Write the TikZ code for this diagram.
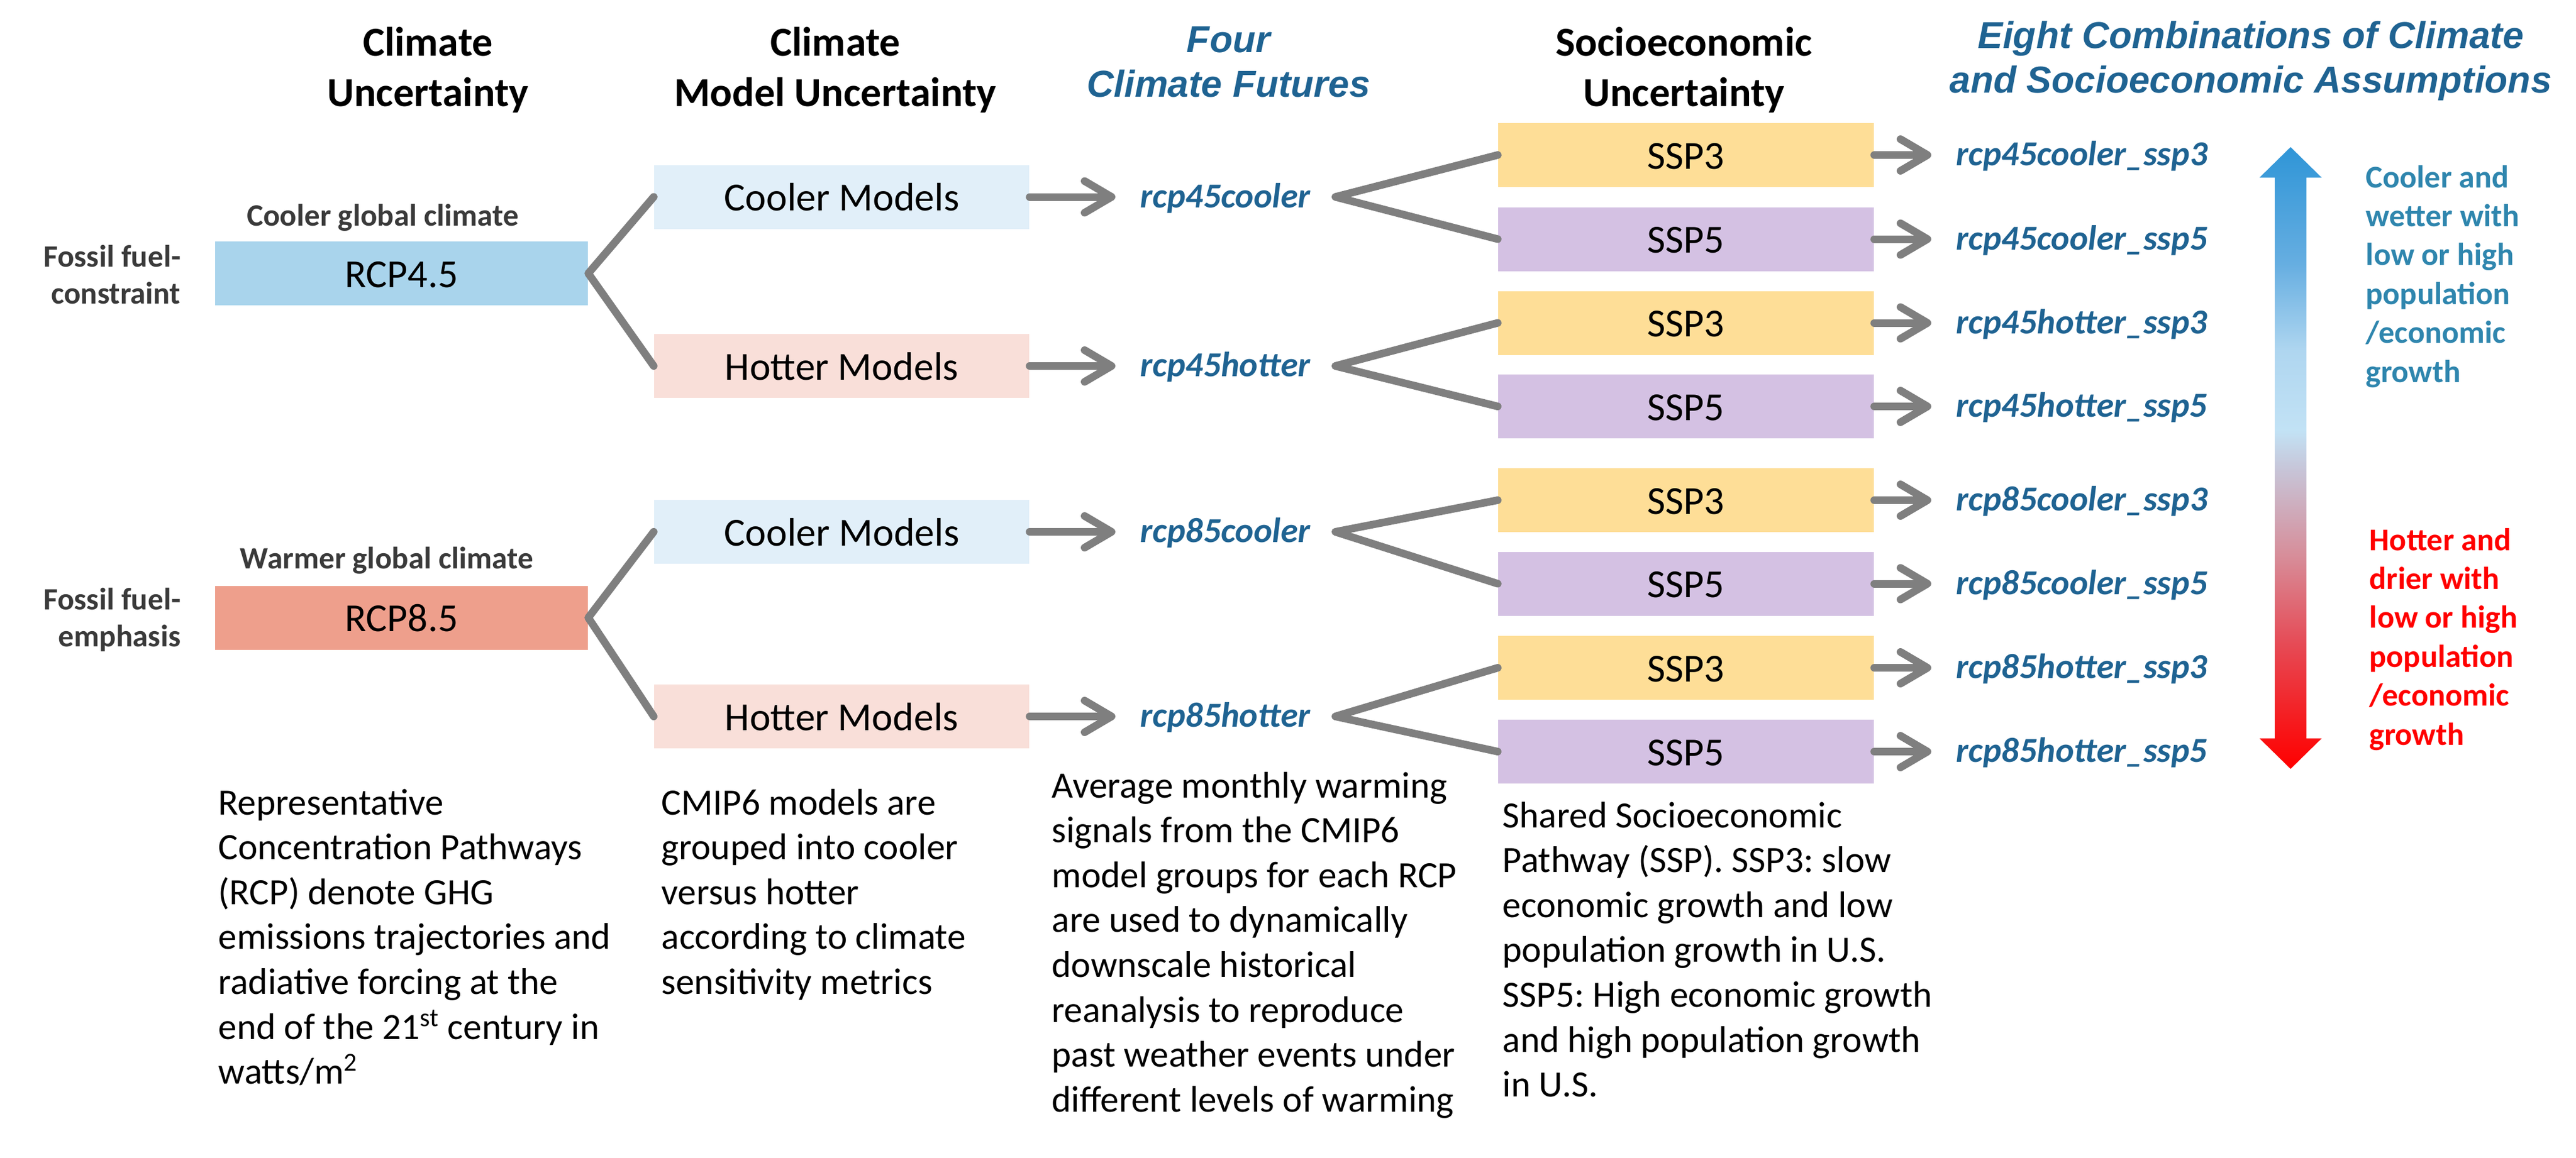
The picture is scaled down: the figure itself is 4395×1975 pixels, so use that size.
\documentclass[tikz,border=0pt]{standalone}
\usepackage{fontspec}
\setmainfont{Carlito}
\newfontfamily\arialfont{Liberation Sans}
\usetikzlibrary{arrows.meta}
\frenchspacing
\definecolor{titleblue}{HTML}{1F6392}
\definecolor{coolblue}{HTML}{2F86AE}
\definecolor{hotred}{HTML}{FF0000}
\definecolor{linegray}{HTML}{7F7F7F}
\definecolor{darktext}{HTML}{3A3A3A}
\definecolor{rcpfourfill}{HTML}{A9D4EC}
\definecolor{rcpeightfill}{HTML}{EE9F8C}
\definecolor{coolfill}{HTML}{E1EFF9}
\definecolor{hotfill}{HTML}{F9DFD9}
\definecolor{sspthreefill}{HTML}{FEDE97}
\definecolor{sspfivefill}{HTML}{D4C1E3}
\definecolor{gA}{HTML}{FF0000}
\definecolor{gB}{HTML}{F81416}
\definecolor{gC}{HTML}{E64A55}
\definecolor{gD}{HTML}{D78D99}
\definecolor{gE}{HTML}{C7C5D8}
\definecolor{gF}{HTML}{C2E2F5}
\definecolor{gG}{HTML}{AFD6F0}
\definecolor{gH}{HTML}{66AEE1}
\definecolor{gI}{HTML}{2F95D7}
\pgfdeclareverticalshading{coolhot}{100bp}{color(0bp)=(gA); color(25bp)=(gA); color(27.9bp)=(gB); color(35bp)=(gC); color(42.1bp)=(gD); color(49.1bp)=(gE); color(52.2bp)=(gF); color(58.6bp)=(gG); color(65.6bp)=(gH); color(75bp)=(gI); color(100bp)=(gI)}
\newcommand{\txtblock}[2]{\begin{tabular}[t]{@{}#1@{}}#2\end{tabular}}
\begin{document}
\frenchspacing
\begin{tikzpicture}[x=0.1mm, y=-0.1mm,
  coltitle/.style={anchor=base, inner sep=0pt, font=\fontsize{20}{24.5}\selectfont\bfseries},
  bluetitle/.style={anchor=base, inner sep=0pt, text=titleblue, font=\arialfont\fontsize{18.2}{21.8}\selectfont\bfseries\itshape},
  box/.style={inner sep=0pt, minimum width=64mm, minimum height=10.9mm, text height=4.7mm, text depth=0mm, font=\fontsize{19.3}{23}\selectfont},
  sidelabel/.style={inner sep=0pt, text=darktext, font=\fontsize{15.1}{18.2}\selectfont\bfseries},
  futlabel/.style={anchor=west, inner xsep=4.2mm, inner ysep=0pt, text height=4.6mm, text depth=1mm, text=titleblue, font=\fontsize{17}{20}\selectfont\bfseries\itshape},
  desc/.style={anchor=base west, inner sep=0pt, font=\fontsize{18}{21.8}\selectfont},
  sidenote/.style={anchor=base west, inner sep=0pt, font=\fontsize{15.4}{18.9}\selectfont\bfseries},
  link/.style={draw=linegray, line width=1.3mm, line cap=round, line join=round},
  arr/.style={link, -{Straight Barb[length=4.6mm, width=5.4mm, round]}}
]
\useasboundingbox (0,0) rectangle (4395,1975);

% column titles
\node[coltitle] (tA) at (730,95) {\txtblock{c}{Climate\\Uncertainty}};
\node[coltitle] (tB) at (1425,95) {\txtblock{c}{Climate\\Model Uncertainty}};
\node[bluetitle] (tC) at (2096,89) {\txtblock{c}{Four\\Climate Futures}};
\node[coltitle] (tD) at (2873,95) {\txtblock{c}{Socioeconomic\\Uncertainty}};
\node[bluetitle] (tE) at (3840,82) {\txtblock{c}{Eight Combinations of Climate\\and Socioeconomic Assumptions}};

% RCP boxes
\node[sidelabel, anchor=base] (glA) at (653,385) {Cooler global climate};
\node[sidelabel, anchor=base east] (ffA) at (309,455) {\txtblock{r}{Fossil fuel-\\constraint}};
\node[box, minimum width=63.6mm, fill=rcpfourfill] (rA) at (685,466.5) {RCP4.5};
\node[sidelabel, anchor=base] (glB) at (660,970) {Warmer global climate};
\node[sidelabel, anchor=base east] (ffB) at (309,1040) {\txtblock{r}{Fossil fuel-\\emphasis}};
\node[box, minimum width=63.6mm, fill=rcpeightfill] (rB) at (685,1054) {RCP8.5};

% model boxes
\node[box, fill=coolfill] (mA) at (1436,336) {Cooler Models};
\node[box, fill=hotfill] (mB) at (1436,624.5) {Hotter Models};
\node[box, fill=coolfill] (mC) at (1436,907.5) {Cooler Models};
\node[box, fill=hotfill] (mD) at (1436,1222.5) {Hotter Models};

% four futures
\node[futlabel] (fA) at (1903,336) {rcp45cooler};
\node[futlabel] (fB) at (1903,624.5) {rcp45hotter};
\node[futlabel] (fC) at (1903,907.5) {rcp85cooler};
\node[futlabel] (fD) at (1903,1222.5) {rcp85hotter};

% SSP boxes
\node[box, minimum width=64.1mm, fill=sspthreefill] (sA) at (2876.5,264.5) {SSP3};
\node[box, minimum width=64.1mm, fill=sspfivefill] (sB) at (2876.5,408) {SSP5};
\node[box, minimum width=64.1mm, fill=sspthreefill] (sC) at (2876.5,551) {SSP3};
\node[box, minimum width=64.1mm, fill=sspfivefill] (sD) at (2876.5,693.5) {SSP5};
\node[box, minimum width=64.1mm, fill=sspthreefill] (sE) at (2876.5,853.5) {SSP3};
\node[box, minimum width=64.1mm, fill=sspfivefill] (sF) at (2876.5,996) {SSP5};
\node[box, minimum width=64.1mm, fill=sspthreefill] (sG) at (2876.5,1139.5) {SSP3};
\node[box, minimum width=64.1mm, fill=sspfivefill] (sH) at (2876.5,1282.5) {SSP5};

% eight combinations
\node[futlabel] (cA) at (3295,264.5) {rcp45cooler\_ssp3};
\node[futlabel] (cB) at (3295,408) {rcp45cooler\_ssp5};
\node[futlabel] (cC) at (3295,551) {rcp45hotter\_ssp3};
\node[futlabel] (cD) at (3295,693.5) {rcp45hotter\_ssp5};
\node[futlabel] (cE) at (3295,853.5) {rcp85cooler\_ssp3};
\node[futlabel] (cF) at (3295,996) {rcp85cooler\_ssp5};
\node[futlabel] (cG) at (3295,1139.5) {rcp85hotter\_ssp3};
\node[futlabel] (cH) at (3295,1282.5) {rcp85hotter\_ssp5};

% connectors
\draw[link] (mA.west) -- (rA.east) -- (mB.west);
\draw[link] (mC.west) -- (rB.east) -- (mD.west);
\draw[arr] (mA.east) -- (fA.west);
\draw[arr] (mB.east) -- (fB.west);
\draw[arr] (mC.east) -- (fC.west);
\draw[arr] (mD.east) -- (fD.west);
\draw[link] (sA.west) -- (fA.east) -- (sB.west);
\draw[link] (sC.west) -- (fB.east) -- (sD.west);
\draw[link] (sE.west) -- (fC.east) -- (sF.west);
\draw[link] (sG.west) -- (fD.east) -- (sH.west);
\draw[arr] (sA.east) -- (cA.west);
\draw[arr] (sB.east) -- (cB.west);
\draw[arr] (sC.east) -- (cC.west);
\draw[arr] (sD.east) -- (cD.west);
\draw[arr] (sE.east) -- (cE.west);
\draw[arr] (sF.east) -- (cF.west);
\draw[arr] (sG.east) -- (cG.west);
\draw[arr] (sH.east) -- (cH.west);

% gradient double arrow
\shade[shading=coolhot] (3908,251) -- (3961,303) -- (3935,303) -- (3935,1260) -- (3961,1260) -- (3908,1312) -- (3855,1260) -- (3881,1260) -- (3881,303) -- (3855,303) -- cycle;
\node[sidenote, text=coolblue] (nA) at (4036,320) {\txtblock{l}{Cooler and\\wetter with\\low or high\\population\\/economic\\growth}};
\node[sidenote, text=hotred] (nB) at (4042,939) {\txtblock{l}{Hotter and\\drier with\\low or high\\population\\/economic\\growth}};

% descriptions
\node[desc] (dA) at (372,1390) {\txtblock{l}{Representative\\Concentration Pathways\\(RCP) denote GHG\\emissions trajectories and\\radiative forcing at the\\end of the 21\textsuperscript{st} century in\\watts/m\textsuperscript{2}}};
\node[desc] (dB) at (1128,1390) {\txtblock{l}{CMIP6 models are\\grouped into cooler\\versus hotter\\according to climate\\sensitivity metrics}};
\node[desc] (dC) at (1794,1361) {\txtblock{l}{Average monthly warming\\signals from the CMIP6\\model groups for each RCP\\are used to dynamically\\downscale historical\\reanalysis to reproduce\\past weather events under\\different levels of warming}};
\node[desc] (dD) at (2563,1412) {\txtblock{l}{Shared Socioeconomic\\Pathway (SSP). SSP3: slow\\economic growth and low\\population growth in U.S.\\SSP5: High economic growth\\and high population growth\\in U.S.}};
\end{tikzpicture}
\end{document}
